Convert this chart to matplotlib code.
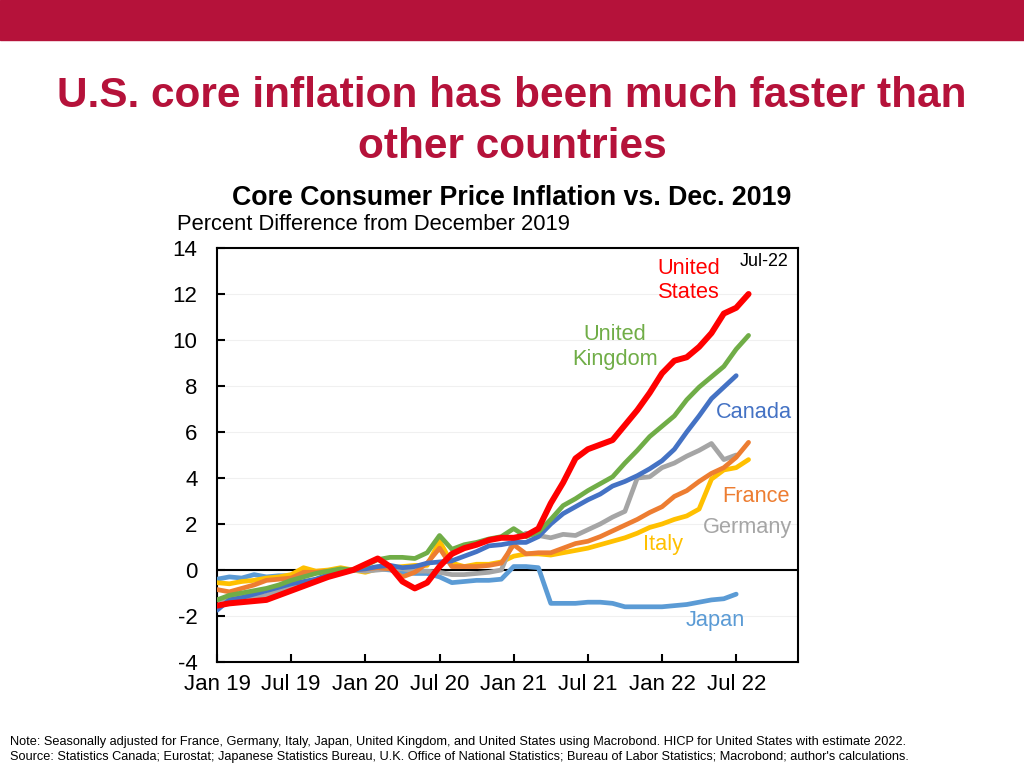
import matplotlib
matplotlib.use("Agg")
import matplotlib.pyplot as plt
from matplotlib.patches import Rectangle

plt.rcParams['font.family'] = ['Liberation Sans', 'DejaVu Sans']

# ---------------- data (monthly, Jan 2019 onward, % diff vs Dec 2019) ----------------
tick_labels = ["Jan 19", "Jul 19", "Jan 20", "Jul 20", "Jan 21", "Jul 21", "Jan 22", "Jul 22"]

united_states = [-1.55, -1.45, -1.4, -1.35, -1.3, -1.1, -0.9, -0.7, -0.5, -0.3, -0.15, 0.0,
                 0.25, 0.5, 0.15, -0.5, -0.8, -0.55, 0.15, 0.7, 0.95, 1.1, 1.3, 1.4,
                 1.4, 1.5, 1.8, 2.9, 3.8, 4.85, 5.25, 5.45, 5.65, 6.3, 6.95, 7.7,
                 8.55, 9.1, 9.25, 9.7, 10.3, 11.15, 11.4, 12.0]
united_kingdom = [-1.3, -1.1, -1.0, -0.9, -0.8, -0.65, -0.45, -0.3, -0.15, -0.05, 0.05, 0.0,
                  0.2, 0.45, 0.55, 0.55, 0.5, 0.75, 1.5, 0.9, 1.1, 1.2, 1.35, 1.45,
                  1.8, 1.45, 1.65, 2.2, 2.8, 3.1, 3.45, 3.75, 4.05, 4.65, 5.2, 5.8,
                  6.25, 6.7, 7.4, 7.95, 8.4, 8.85, 9.6, 10.2]
canada = [-1.75, -1.3, -1.2, -1.05, -0.9, -0.75, -0.6, -0.5, -0.4, -0.2, -0.1, 0.0,
          0.05, 0.15, 0.2, 0.1, 0.15, 0.3, 0.35, 0.4, 0.6, 0.8, 1.05, 1.1,
          1.2, 1.2, 1.45, 2.0, 2.45, 2.75, 3.05, 3.3, 3.65, 3.85, 4.1, 4.4,
          4.75, 5.25, 6.0, 6.7, 7.45, 7.95, 8.45]
france = [-0.85, -0.95, -0.8, -0.65, -0.45, -0.4, -0.35, -0.1, -0.1, -0.05, -0.1, 0.0,
          0.05, 0.1, 0.05, -0.3, -0.1, 0.3, 0.95, 0.15, 0.15, 0.15, 0.2, 0.3,
          1.1, 0.7, 0.75, 0.75, 0.95, 1.15, 1.25, 1.45, 1.7, 1.95, 2.2, 2.5,
          2.75, 3.2, 3.45, 3.85, 4.2, 4.45, 4.9, 5.55]
germany = [-1.3, -1.25, -1.15, -1.2, -1.1, -0.9, -0.7, -0.6, -0.4, -0.3, -0.1, 0.0,
           -0.05, 0.0, 0.05, 0.05, -0.05, -0.05, -0.1, -0.2, -0.2, -0.15, -0.1, 0.0,
           1.3, 1.6, 1.5, 1.4, 1.55, 1.5, 1.75, 2.0, 2.3, 2.55, 4.0, 4.05,
           4.45, 4.65, 4.95, 5.2, 5.5, 4.8, 5.0]
italy = [-0.55, -0.6, -0.5, -0.45, -0.35, -0.3, -0.2, 0.1, -0.05, 0.0, 0.1, 0.0,
         -0.1, 0.05, 0.1, 0.15, 0.2, 0.2, 1.25, 0.3, 0.15, 0.25, 0.25, 0.35,
         0.6, 0.7, 0.7, 0.65, 0.75, 0.85, 0.95, 1.1, 1.25, 1.4, 1.6, 1.85,
         2.0, 2.2, 2.35, 2.65, 3.95, 4.35, 4.45, 4.8]
japan = [-0.4, -0.3, -0.35, -0.2, -0.3, -0.25, -0.25, -0.15, -0.1, -0.05, 0.0, 0.0,
         0.0, 0.05, 0.0, -0.1, -0.15, -0.15, -0.3, -0.55, -0.5, -0.45, -0.45, -0.4,
         0.15, 0.15, 0.1, -1.45, -1.45, -1.45, -1.4, -1.4, -1.45, -1.6, -1.6, -1.6,
         -1.6, -1.55, -1.5, -1.4, -1.3, -1.25, -1.05]

series = [
    ("Japan", japan, "#5B9BD5", 3.4),
    ("Italy", italy, "#FFC000", 3.4),
    ("Germany", germany, "#A5A5A5", 3.4),
    ("France", france, "#ED7D31", 3.4),
    ("Canada", canada, "#4472C4", 3.4),
    ("United Kingdom", united_kingdom, "#70AD47", 3.4),
    ("United States", united_states, "#FF0000", 4.3),
]

# ---------------- figure ----------------
fig = plt.figure(figsize=(10.24, 7.68), dpi=100)
crimson = "#B5123A"
fig.patches.append(Rectangle((0, 1 - 40 / 768), 1, 40 / 768, transform=fig.transFigure,
                             color=crimson, zorder=0))

fig.text(0.5, 1 - 96 / 768, "U.S. core inflation has been much faster than",
         ha="center", va="center", fontsize=30.5, fontweight="bold", color=crimson)
fig.text(0.5, 1 - 147 / 768, "other countries",
         ha="center", va="center", fontsize=30.5, fontweight="bold", color=crimson)
fig.text(0.5, 1 - 198 / 768, "Core Consumer Price Inflation vs. Dec. 2019",
         ha="center", va="center", fontsize=19.3, fontweight="bold", color="black")
fig.text(177 / 1024, 1 - 225 / 768, "Percent Difference from December 2019",
         ha="left", va="center", fontsize=15.8, color="black")

ax = fig.add_axes([217 / 1024, 1 - 662 / 768, (798 - 217) / 1024, (662 - 248) / 768])

for name, vals, col, lw in series:
    ax.plot(range(len(vals)), vals, color=col, lw=lw, solid_joinstyle="round",
            solid_capstyle="round", zorder=3)

ax.axhline(0, color="black", lw=1.5, zorder=2)
ax.set_xlim(0, 47)
ax.set_ylim(-4, 14)
ax.set_yticks(range(-4, 15, 2))
ax.set_yticklabels([str(v) for v in range(-4, 15, 2)], fontsize=16)
ax.set_xticks(range(0, 43, 6))
ax.set_xticklabels(tick_labels, fontsize=16)
ax.tick_params(axis="both", direction="in", length=6, width=1.5, color="black")
ax.tick_params(axis="y", pad=14)
ax.tick_params(axis="x", pad=9)
ax.grid(axis="y", color="#F0F0F0", lw=0.8, zorder=0)
for sp in ax.spines.values():
    sp.set_linewidth(1.5)
    sp.set_color("black")

# series labels
lab_fs = 15.7
ax.text(35.65, 12.6, "United\nStates", color="#FF0000", fontsize=lab_fs, ha="left", va="center",
        linespacing=1.2)
ax.text(42.3, 13.4, "Jul-22", color="black", fontsize=12.9, ha="left", va="center")
ax.text(32.2, 9.7, "United\nKingdom", color="#70AD47", fontsize=lab_fs, ha="center", va="center",
        linespacing=1.2)
ax.text(46.5, 6.83, "Canada", color="#4472C4", fontsize=lab_fs, ha="right", va="center")
ax.text(46.3, 3.2, "France", color="#ED7D31", fontsize=lab_fs, ha="right", va="center")
ax.text(46.5, 1.83, "Germany", color="#A5A5A5", fontsize=lab_fs, ha="right", va="center")
ax.text(36.05, 1.09, "Italy", color="#FFC000", fontsize=lab_fs, ha="center", va="center")
ax.text(40.3, -2.2, "Japan", color="#5B9BD5", fontsize=lab_fs, ha="center", va="center")

fig.text(10 / 1024, 1 - 742 / 768,
         "Note: Seasonally adjusted for France, Germany, Italy, Japan, United Kingdom, and United States "
         "using Macrobond. HICP for United States with estimate 2022.",
         ha="left", va="center", fontsize=9.2, color="black")
fig.text(10 / 1024, 1 - 757 / 768,
         "Source: Statistics Canada; Eurostat; Japanese Statistics Bureau, U.K. Office of National "
         "Statistics; Bureau of Labor Statistics; Macrobond; author's calculations.",
         ha="left", va="center", fontsize=9.2, color="black")

fig.savefig("out.png", dpi=100)
